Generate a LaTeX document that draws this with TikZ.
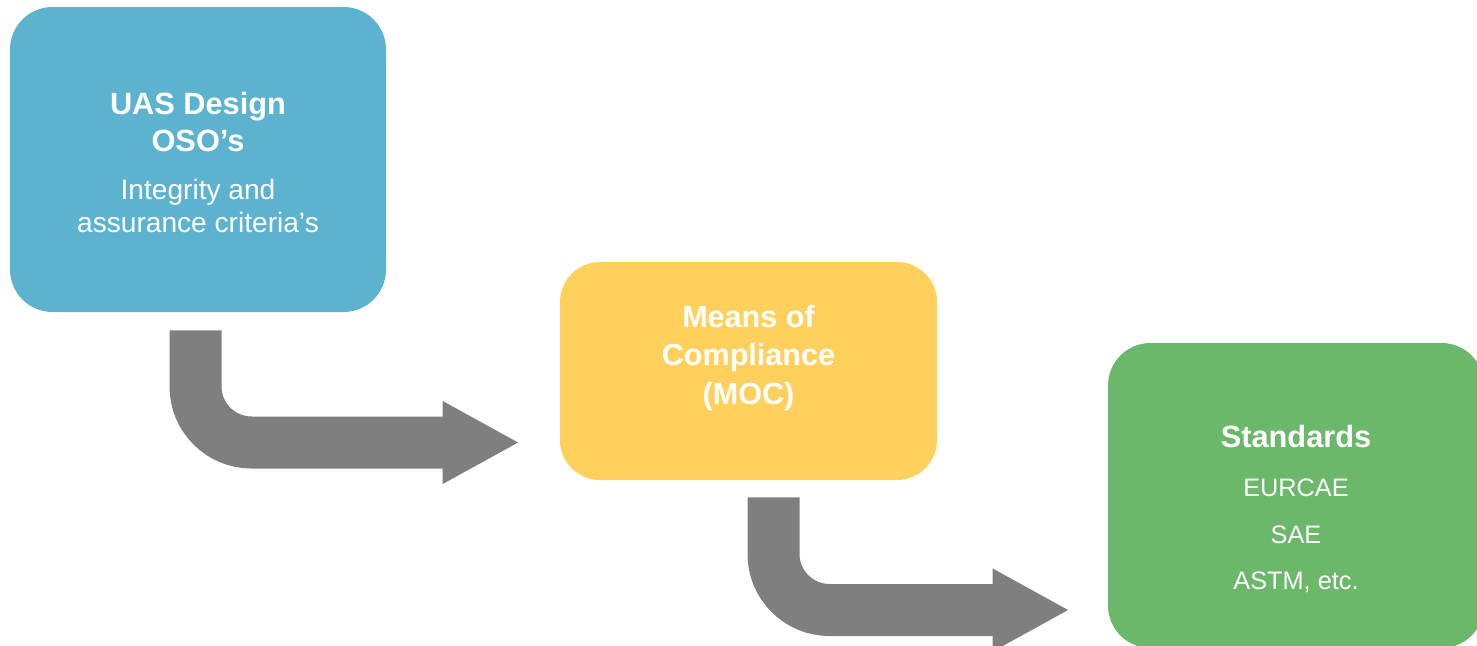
\documentclass[tikz,border=0pt]{standalone}
\usepackage{fontspec}
\setmainfont{Liberation Sans}
\usetikzlibrary{arrows.meta}
\definecolor{uasblue}{HTML}{5CB3CF}
\definecolor{mocyellow}{HTML}{FFD15C}
\definecolor{stdgreen}{HTML}{6BB86B}
\definecolor{flowgray}{HTML}{7F7F7F}
\newcommand{\headfont}{\bfseries\fontsize{17.5pt}{18.8pt}\selectfont}
\tikzset{
    box/.style={rectangle, inner sep=0pt, minimum width=7.52cm, minimum height=6.1cm, rounded corners=0.85cm},
    txt/.style={text=white, align=center, font=\fontsize{16pt}{18.8pt}\selectfont},
    flow/.style={draw=flowgray, line width=1.04cm, rounded corners=1.12cm, -{Triangle[width=1.54cm, length=1.54cm]}}
}
\begin{document}
\begin{tikzpicture}
            \useasboundingbox (0,0) rectangle (29.54,-12.9);
            \node[box, fill=uasblue] (uas) at (3.96,-3.19) {};
            \node[box, fill=mocyellow, minimum width=7.54cm, minimum height=4.36cm, rounded corners=0.8cm] (moc) at (14.97,-7.42) {};
            \node[box, fill=stdgreen] (std) at (25.92,-9.91) {};
            \node[txt] (uas-txt) at ([yshift=-0.06cm]uas.center) {{\headfont UAS Design}\\[2.8pt]{\headfont OSO’s}\\[8.5pt]Integrity and\\assurance criteria’s};
            \node[txt, font=\bfseries\fontsize{17.4pt}{22pt}\selectfont] (moc-txt) at ([yshift=0.26cm]moc.center) {Means of\\Compliance\\(MOC)};
            \node[txt, font=\fontsize{14.4pt}{26.7pt}\selectfont] (std-txt) at ([yshift=-0.27cm]std.center) {{\headfont Standards}\\[1.2pt]EURCAE\\SAE\\ASTM, etc.};
            \draw[flow] ([xshift=-0.05cm, yshift=-0.36cm]uas.south) |- ([xshift=-0.8cm, yshift=-1.43cm]moc.west);
            \draw[flow] ([xshift=0.5cm, yshift=-0.34cm]moc.south) |- ([xshift=-0.76cm, yshift=-2.29cm]std.west);
        \end{tikzpicture}
\end{document}
